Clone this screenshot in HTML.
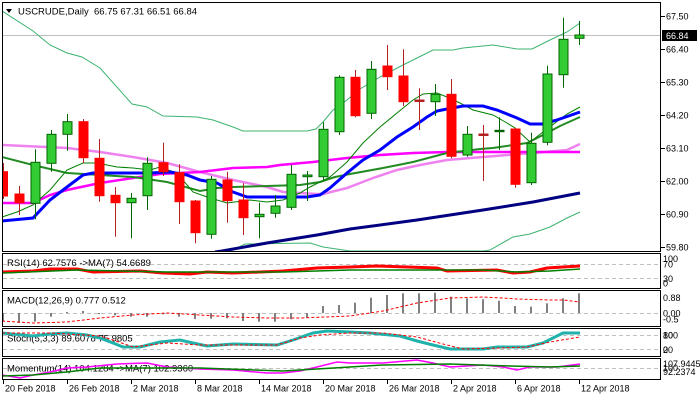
<!DOCTYPE html>
<html><head><meta charset="utf-8"><style>
html,body{margin:0;padding:0;background:#fff;}
svg{display:block;}
text{font-family:"Liberation Sans",sans-serif;fill:#000;}
</style></head><body>
<svg width="700" height="400" viewBox="0 0 700 400" xmlns="http://www.w3.org/2000/svg">
<defs>
<clipPath id="cm"><rect x="3" y="3" width="657" height="248"/></clipPath>
<clipPath id="cr"><rect x="3" y="254" width="657" height="34"/></clipPath>
<clipPath id="cd"><rect x="3" y="291" width="657" height="35"/></clipPath>
<clipPath id="cs"><rect x="3" y="329" width="657" height="27"/></clipPath>
<clipPath id="cmo"><rect x="3" y="359" width="657" height="20"/></clipPath>
</defs>
<rect width="700" height="400" fill="#fff"/>

<!-- MAIN PANEL -->
<g clip-path="url(#cm)">
<line x1="2" y1="35.5" x2="661" y2="35.5" stroke="#C0C0C0" stroke-width="1"/>
<!-- Bollinger upper -->
<polyline fill="none" stroke="#3CB371" stroke-width="1" points="2,11 33,31 50,45 67,53 82,57 100,68 132,104 147,107 163,116 197,117 213,120 233,127 243,131 307,131 316,129 323,122 333,110 347,100 360,89 380,77 403,65 433,50 453,50 463,48 493,45 517,49 532,49 550,40 567,32 580,23"/>
<!-- Bollinger lower -->
<polyline fill="none" stroke="#3CB371" stroke-width="1" points="220,256 228,251 233,250 245,244 310,243 323,247 350,251 483,251 490,250 513,237 530,234 550,227 567,218 580,212"/>
<!-- navy -->
<polyline fill="none" stroke="#000080" stroke-width="3" points="215,252 222,251 267,243 317,235 350,229 417,220 483,210 533,202 580,193"/>
<!-- violet -->
<polyline fill="none" stroke="#EE82EE" stroke-width="2.5" points="2,145 67,148 100,152 133,157 167,163 200,172 233,180 267,187 283,192 317,194 323,194 347,188 373,178 397,170 420,165 447,160 483,157 533,153 567,150 580,144"/>
<!-- magenta -->
<polyline fill="none" stroke="#FF00FF" stroke-width="2.5" points="2,203 33,203 50,195 67,190 100,183 133,178 160,174 200,172 233,168 267,167 280,165 313,162 347,158 380,155 413,153 447,152 517,152 580,152"/>
<!-- green medium -->
<polyline fill="none" stroke="#228B22" stroke-width="2" points="2,157 33,165 67,173 100,175 133,177 167,182 200,191 217,188 233,187 267,186 300,185 320,182 335,177 350,174 383,168 413,162 447,153 480,149 493,148 527,143 543,135 560,126 580,117"/>
<!-- thin dark green -->
<polyline fill="none" stroke="#008000" stroke-width="1" points="2,217 17,212 33,205 50,190 67,170 83,163 97,163 117,167 133,168 150,170 160,167 177,173 193,192 207,197 227,203 250,200 267,202 283,200 300,193 310,187 330,177 347,162 363,143 380,127 397,113 413,100 423,94 437,93 447,97 460,103 473,110 493,115 507,123 515,128 530,142 543,132 567,114 580,107"/>
<!-- blue -->
<polyline fill="none" stroke="#0000FF" stroke-width="3" points="2,221 33,218 50,200 67,187 83,175 93,173 150,173 170,172 187,175 200,180 217,183 233,192 247,197 283,197 307,197 320,195 330,188 347,173 363,160 380,150 397,137 413,127 427,117 437,111 447,109 463,106 483,106 497,110 517,118 530,124 543,124 557,120 580,112"/>

<!-- candles -->
<g stroke-width="1">
<line x1="3.5" y1="163" x2="3.5" y2="199" stroke="#B22222"/><rect x="-1.5" y="171.7" width="9" height="24.3" fill="#FF0000" stroke="#FF0000"/>
<line x1="19.5" y1="186" x2="19.5" y2="215" stroke="#B22222"/><rect x="15" y="194" width="9" height="8.7" fill="#FF0000" stroke="#FF0000"/>
<line x1="35.5" y1="149.3" x2="35.5" y2="219.3" stroke="#006400"/><rect x="31" y="162.3" width="9" height="41" fill="#32CD32" stroke="#006400"/>
<line x1="51.5" y1="130" x2="51.5" y2="171.7" stroke="#006400"/><rect x="47" y="134.3" width="9" height="29" fill="#32CD32" stroke="#006400"/>
<line x1="67.5" y1="114" x2="67.5" y2="150.7" stroke="#006400"/><rect x="63" y="121.7" width="9" height="12.6" fill="#32CD32" stroke="#006400"/>
<line x1="83.5" y1="119" x2="83.5" y2="163.3" stroke="#B22222"/><rect x="79" y="121.7" width="9" height="36" fill="#FF0000" stroke="#FF0000"/>
<line x1="99.5" y1="139" x2="99.5" y2="201.7" stroke="#B22222"/><rect x="95" y="158.3" width="9" height="37.4" fill="#FF0000" stroke="#FF0000"/>
<line x1="115.5" y1="187" x2="115.5" y2="236.7" stroke="#B22222"/><rect x="111" y="195.3" width="9" height="7.4" fill="#FF0000" stroke="#FF0000"/>
<line x1="131.5" y1="193" x2="131.5" y2="238.3" stroke="#006400"/><rect x="127" y="198.3" width="9" height="4.4" fill="#32CD32" stroke="#006400"/>
<line x1="147.5" y1="157.3" x2="147.5" y2="210" stroke="#006400"/><rect x="143" y="163.3" width="9" height="32.4" fill="#32CD32" stroke="#006400"/>
<line x1="163.5" y1="142.7" x2="163.5" y2="176" stroke="#B22222"/><rect x="159" y="162.7" width="9" height="9" fill="#FF0000" stroke="#FF0000"/>
<line x1="179.5" y1="164.3" x2="179.5" y2="224" stroke="#B22222"/><rect x="175" y="172.7" width="9" height="29" fill="#FF0000" stroke="#FF0000"/>
<line x1="195.5" y1="200" x2="195.5" y2="243.3" stroke="#B22222"/><rect x="191" y="201" width="9" height="31.7" fill="#FF0000" stroke="#FF0000"/>
<line x1="211.5" y1="176" x2="211.5" y2="238.7" stroke="#006400"/><rect x="207" y="179.3" width="9" height="55" fill="#32CD32" stroke="#006400"/>
<line x1="227.5" y1="171.7" x2="227.5" y2="222.7" stroke="#B22222"/><rect x="223" y="180" width="9" height="20.7" fill="#FF0000" stroke="#FF0000"/>
<line x1="243.5" y1="183.3" x2="243.5" y2="235" stroke="#B22222"/><rect x="239" y="200" width="9" height="17.7" fill="#FF0000" stroke="#FF0000"/>
<line x1="259.5" y1="202.7" x2="259.5" y2="238.3" stroke="#006400"/><rect x="255" y="214.3" width="9" height="2.4" fill="#32CD32" stroke="#006400"/>
<line x1="275.5" y1="195" x2="275.5" y2="217.7" stroke="#006400"/><rect x="271" y="206" width="9" height="7.3" fill="#32CD32" stroke="#006400"/>
<line x1="291.5" y1="165" x2="291.5" y2="210" stroke="#006400"/><rect x="287" y="174.3" width="9" height="33" fill="#32CD32" stroke="#006400"/>
<line x1="307.5" y1="171" x2="307.5" y2="201" stroke="#006400"/><rect x="303" y="175" width="9" height="1.7" fill="#32CD32" stroke="#006400"/>
<line x1="323.5" y1="122.3" x2="323.5" y2="180" stroke="#006400"/><rect x="319" y="129.3" width="9" height="47.4" fill="#32CD32" stroke="#006400"/>
<line x1="339.5" y1="75.3" x2="339.5" y2="135" stroke="#006400"/><rect x="335" y="77.3" width="9" height="54.4" fill="#32CD32" stroke="#006400"/>
<line x1="355.5" y1="70" x2="355.5" y2="117.3" stroke="#B22222"/><rect x="351" y="77.3" width="9" height="38.4" fill="#FF0000" stroke="#FF0000"/>
<line x1="371.5" y1="61" x2="371.5" y2="119" stroke="#006400"/><rect x="367" y="69.3" width="9" height="44" fill="#32CD32" stroke="#006400"/>
<line x1="387.5" y1="45" x2="387.5" y2="90" stroke="#B22222"/><rect x="383" y="66" width="9" height="10.7" fill="#FF0000" stroke="#FF0000"/>
<line x1="403.5" y1="49.3" x2="403.5" y2="106" stroke="#B22222"/><rect x="399" y="76" width="9" height="25.7" fill="#FF0000" stroke="#FF0000"/>
<line x1="419.5" y1="88.3" x2="419.5" y2="130" stroke="#B22222"/><rect x="415" y="100" width="9" height="1.5" fill="#B22222" stroke="#B22222"/>
<line x1="435.5" y1="84" x2="435.5" y2="116" stroke="#006400"/><rect x="431" y="94.3" width="9" height="7.4" fill="#32CD32" stroke="#006400"/>
<line x1="451.5" y1="79" x2="451.5" y2="158.3" stroke="#B22222"/><rect x="447" y="94.3" width="9" height="62" fill="#FF0000" stroke="#FF0000"/>
<line x1="467.5" y1="126" x2="467.5" y2="156.7" stroke="#006400"/><rect x="463" y="134.3" width="9" height="20.7" fill="#32CD32" stroke="#006400"/>
<line x1="483.5" y1="125" x2="483.5" y2="181" stroke="#B22222"/><rect x="479" y="134" width="9" height="1.5" fill="#B22222" stroke="#B22222"/>
<line x1="499.5" y1="117.3" x2="499.5" y2="150" stroke="#006400"/><rect x="495" y="130.3" width="9" height="1.4" fill="#006400" stroke="#006400"/>
<line x1="515.5" y1="127.7" x2="515.5" y2="187.7" stroke="#B22222"/><rect x="511" y="129" width="9" height="55.3" fill="#FF0000" stroke="#FF0000"/>
<line x1="531.5" y1="132.7" x2="531.5" y2="185" stroke="#006400"/><rect x="527" y="143.3" width="9" height="39.4" fill="#32CD32" stroke="#006400"/>
<line x1="547.5" y1="65.7" x2="547.5" y2="145.3" stroke="#006400"/><rect x="543" y="74" width="9" height="68.3" fill="#32CD32" stroke="#006400"/>
<line x1="563.5" y1="17.7" x2="563.5" y2="87.7" stroke="#006400"/><rect x="559" y="39.3" width="9" height="35.4" fill="#32CD32" stroke="#006400"/>
<line x1="579.5" y1="21" x2="579.5" y2="45" stroke="#006400"/><rect x="575" y="35" width="9" height="3.3" fill="#32CD32" stroke="#006400"/>
</g>
</g>
<polygon points="6,9 12,9 9,13" fill="#000"/>
<text x="18" y="14.5" font-size="9.5">USCRUDE,Daily&#160;&#160;66.75 67.31 66.51 66.84</text>

<!-- Panel borders -->
<g fill="none" stroke="#000" stroke-width="1">
<rect x="2.5" y="2.5" width="658" height="249"/>
<rect x="2.5" y="253.5" width="658" height="35"/>
<rect x="2.5" y="290.5" width="658" height="36"/>
<rect x="2.5" y="328.5" width="658" height="28"/>
<rect x="2.5" y="358.5" width="658" height="21"/>
</g>

<!-- price axis -->
<g stroke="#000" stroke-width="1">
<line x1="661" y1="16.5" x2="665" y2="16.5"/>
<line x1="661" y1="49.5" x2="665" y2="49.5"/>
<line x1="661" y1="82.5" x2="665" y2="82.5"/>
<line x1="661" y1="115.5" x2="665" y2="115.5"/>
<line x1="661" y1="148.5" x2="665" y2="148.5"/>
<line x1="661" y1="181.5" x2="665" y2="181.5"/>
<line x1="661" y1="214.5" x2="665" y2="214.5"/>
<line x1="661" y1="247.5" x2="665" y2="247.5"/>
</g>
<g font-size="9">
<text x="666" y="19.5">67.50</text>
<text x="666" y="52.5">66.40</text>
<text x="666" y="85.5">65.30</text>
<text x="666" y="118.5">64.20</text>
<text x="666" y="151.5">63.10</text>
<text x="666" y="184.5">62.00</text>
<text x="666" y="217.5">60.90</text>
<text x="666" y="250.5">59.80</text>
</g>
<rect x="662" y="30" width="35" height="11" fill="#000"/>
<text x="666" y="39" font-size="9" style="fill:#fff">66.84</text>

<!-- RSI -->
<g stroke="#C0C0C0" stroke-width="1" stroke-dasharray="4,3">
<line x1="3" y1="264.5" x2="660" y2="264.5"/>
<line x1="3" y1="278.5" x2="660" y2="278.5"/>
<line x1="3" y1="313.5" x2="660" y2="313.5"/>
<line x1="3" y1="335.5" x2="660" y2="335.5"/>
<line x1="3" y1="349.5" x2="660" y2="349.5"/>
<line x1="3" y1="368.5" x2="660" y2="368.5"/>
</g>
<text x="7" y="266" font-size="9.5">RSI(14) 62.7576 -&gt;MA(7) 54.6689</text>
<g clip-path="url(#cr)">
<polyline fill="none" stroke="#FF0000" stroke-width="3" points="2,272 33,271 50,269 77,269 93,272 140,271 163,273 190,274 207,272 233,273 260,272 283,271 317,268 350,267 377,266 437,268 447,271 497,270 513,273 530,272 547,268 563,267 580,266"/>
<polyline fill="none" stroke="#008000" stroke-width="1.5" points="2,273 77,270 167,272 283,272 350,270 483,270 517,272 550,271 580,269"/>
</g>
<g font-size="9">
<text x="663" y="262">100</text>
<text x="663" y="267.5">70</text>
<text x="663" y="282">30</text>
<text x="663" y="286.5">0</text>
</g>

<!-- MACD -->
<text x="7" y="303.5" font-size="9.5">MACD(12,26,9) 0.777 0.512</text>
<g clip-path="url(#cd)" fill="#808080">
<rect x="2" y="313" width="2" height="8.7"/>
<rect x="18" y="313" width="2" height="10"/>
<rect x="34" y="313" width="2" height="8.7"/>
<rect x="50" y="313" width="2" height="3.7"/>
<rect x="66" y="312" width="2" height="1"/>
<rect x="82" y="311" width="2" height="2"/>
<rect x="98" y="313" width="2" height="1"/>
<rect x="114" y="313" width="2" height="2.3"/>
<rect x="130" y="313" width="2" height="3.7"/>
<rect x="146" y="313" width="2" height="3.7"/>
<rect x="162" y="313" width="2" height="1.3"/>
<rect x="178" y="313" width="2" height="3.7"/>
<rect x="194" y="313" width="2" height="6"/>
<rect x="210" y="313" width="2" height="5.7"/>
<rect x="226" y="313" width="2" height="5.3"/>
<rect x="242" y="313" width="2" height="8"/>
<rect x="258" y="313" width="2" height="8.7"/>
<rect x="274" y="313" width="2" height="8.7"/>
<rect x="290" y="313" width="2" height="6.3"/>
<rect x="306" y="313" width="2" height="4.7"/>
<rect x="322" y="306" width="2" height="7"/>
<rect x="338" y="305" width="2" height="8"/>
<rect x="354" y="302.7" width="2" height="10.3"/>
<rect x="370" y="297.7" width="2" height="15.3"/>
<rect x="386" y="295" width="2" height="18"/>
<rect x="402" y="293.3" width="2" height="19.7"/>
<rect x="418" y="293.3" width="2" height="19.7"/>
<rect x="434" y="292.7" width="2" height="20.3"/>
<rect x="450" y="296.7" width="2" height="16.3"/>
<rect x="466" y="298.3" width="2" height="14.7"/>
<rect x="482" y="299.3" width="2" height="13.7"/>
<rect x="498" y="300.7" width="2" height="12.3"/>
<rect x="514" y="306" width="2" height="7"/>
<rect x="530" y="306.7" width="2" height="6.3"/>
<rect x="546" y="303.3" width="2" height="9.7"/>
<rect x="562" y="298.3" width="2" height="14.7"/>
<rect x="578" y="293.3" width="2" height="19.7"/>
<polyline fill="none" stroke="#FF0000" stroke-width="1" stroke-dasharray="3,2" points="2,321 33,323 67,322 100,318 133,315 167,313 200,315 233,317 267,318 300,318 350,316 383,311 417,303 450,298 483,297 503,298 517,299 550,300 563,300 580,302"/>
</g>
<g font-size="9">
<text x="663" y="301">0.88</text>
<text x="663" y="316.5">0.00</text>
<text x="663" y="322.5">-0.5</text>
</g>

<!-- Stoch -->
<text x="7" y="341.5" font-size="9.5">Stoch(5,3,3) 89.6078 75.9805</text>
<g clip-path="url(#cs)">
<polyline fill="none" stroke="#20B2AA" stroke-width="3" points="2,333 33,336 50,334 67,333 87,335 100,338 113,343 123,347 140,347 160,342 180,340 193,343 207,346 233,344 277,345 293,340 313,333 327,331 350,332 370,333 400,336 417,341 433,345 450,349 483,349 497,347 527,347 543,343 563,333 580,333"/>
<polyline fill="none" stroke="#FF0000" stroke-width="1" stroke-dasharray="3,2" points="2,333 50,333 100,336 113,340 133,347 167,343 200,345 277,345 300,338 320,335 350,333 383,333 417,337 443,344 463,349 500,348 527,347 550,342 580,337"/>
</g>
<g font-size="9">
<text x="663" y="338.5">100</text>
<text x="663" y="338.5">80</text>
<text x="663" y="353">20</text>
<text x="663" y="353">0</text>
</g>

<!-- Momentum -->
<text x="7" y="371.5" font-size="9.5">Momentum(14) 104.1284 -&gt;MA(7) 102.9360</text>
<g clip-path="url(#cmo)">
<polyline fill="none" stroke="#FF00FF" stroke-width="1.5" points="2,375 20,378 33,375 50,372 67,368 87,367 117,364 147,363 167,367 200,369 233,370 267,373 283,373 300,371 317,367 337,362 350,363 383,363 417,360 433,363 450,367 483,365 503,367 517,370 530,367 557,367 580,364"/>
<polyline fill="none" stroke="#008000" stroke-width="1.5" points="2,376 33,375 67,372 100,368 200,368 283,371 317,369 350,367 383,365 450,364 510,366 550,367 580,366"/>
</g>
<g font-size="9">
<text x="663" y="367">107.9445</text>
<text x="663" y="371">100</text>
<text x="663" y="375">92.2374</text>
</g>

<!-- time axis -->
<g stroke="#000" stroke-width="1">
<line x1="3.5" y1="380" x2="3.5" y2="384"/>
<line x1="67.5" y1="380" x2="67.5" y2="384"/>
<line x1="131.5" y1="380" x2="131.5" y2="384"/>
<line x1="195.5" y1="380" x2="195.5" y2="384"/>
<line x1="259.5" y1="380" x2="259.5" y2="384"/>
<line x1="323.5" y1="380" x2="323.5" y2="384"/>
<line x1="387.5" y1="380" x2="387.5" y2="384"/>
<line x1="451.5" y1="380" x2="451.5" y2="384"/>
<line x1="515.5" y1="380" x2="515.5" y2="384"/>
<line x1="579.5" y1="380" x2="579.5" y2="384"/>
</g>
<g font-size="9">
<text x="5" y="391.5">20 Feb 2018</text>
<text x="69" y="391.5">26 Feb 2018</text>
<text x="133" y="391.5">2 Mar 2018</text>
<text x="197" y="391.5">8 Mar 2018</text>
<text x="261" y="391.5">14 Mar 2018</text>
<text x="325" y="391.5">20 Mar 2018</text>
<text x="389" y="391.5">26 Mar 2018</text>
<text x="453" y="391.5">2 Apr 2018</text>
<text x="517" y="391.5">6 Apr 2018</text>
<text x="581" y="391.5">12 Apr 2018</text>
</g>
</svg>
</body></html>
